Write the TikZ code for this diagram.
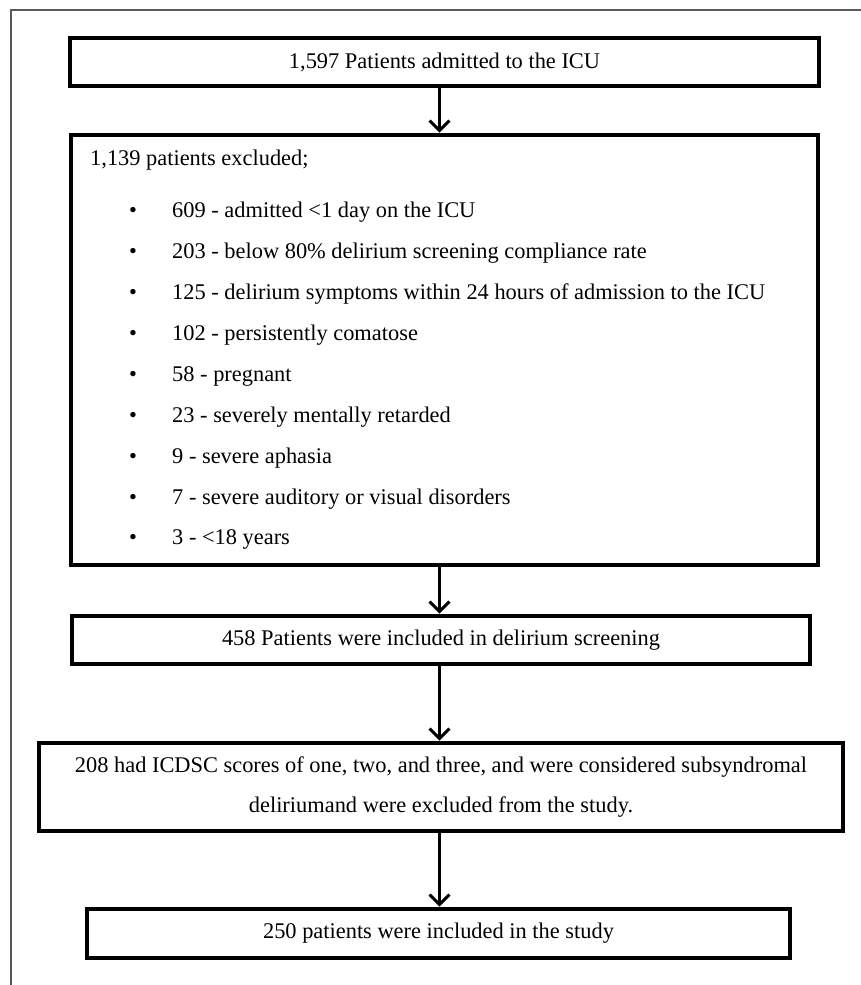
\documentclass[tikz,border=0pt]{standalone}
\usepackage{fontspec}
\setmainfont{Liberation Serif}
\usepackage{xcolor}
\usepackage{tikz}
\usetikzlibrary{shapes,arrows.meta}
\definecolor{frameGray}{RGB}{90,90,90}

\begin{document}
\begin{tikzpicture}[x=1pt,y=-1pt]
\tikzset{
    flow block/.style={
        rectangle, draw=black, line width=4.6pt,
        inner sep=0pt, align=center,
        font=\fontsize{22.4}{40}\selectfont
    },
    list text/.style={
        anchor=west, inner sep=0pt,
        text height=15pt, text depth=5pt,
        font=\fontsize{22.4}{27}\selectfont
    },
    arrow/.style={
        line width=3pt, -{Straight Barb[length=10pt,width=20pt,line width=3pt]}
    }
}
\useasboundingbox (0,0) rectangle (861,985);
% Outer frame
\draw[frameGray, line width=1.5pt] (861,10) -| (11,985);

% Boxes with absolute coordinates
\node[flow block, minimum width=749pt, minimum height=48pt] (admitted) at (444.5,62)  {1,597 Patients admitted to the ICU};
\node[flow block, minimum width=747pt, minimum height=430pt] (excluded) at (444.5,350) {};
\node[flow block, minimum width=738pt, minimum height=48pt] (screened) at (441,640)   {458 Patients were included in delirium screening};
\node[flow block, minimum width=804pt, minimum height=88pt] (subsyn)   at (441,787)   {208 had ICDSC scores of one, two, and three, and were considered subsyndromal\\deliriumand were excluded from the study.};
\node[flow block, minimum width=703pt, minimum height=49pt] (included) at (438.5,933.5) {250 patients were included in the study};

% Exclusion list
\node[list text] (exclTitle) at (90,160) {1,139 patients excluded;};
\foreach \i/\y/\t in {1/212/{609 - admitted <1 day on the ICU},
                      2/253/{203 - below 80\% delirium screening compliance rate},
                      3/294/{125 - delirium symptoms within 24 hours of admission to the ICU},
                      4/335/{102 - persistently comatose},
                      5/376/{58 - pregnant},
                      6/417/{23 - severely mentally retarded},
                      7/458/{9 - severe aphasia},
                      8/499/{7 - severe auditory or visual disorders},
                      9/539/{3 - <18 years}} {
    \node[list text] (bullet\i) at (129,\y) {\textbullet};
    \node[list text] (item\i)   at (172,\y) {\t};
}

% Arrows
\coordinate (axis) at (439.5,0);
\draw[arrow] (admitted.south -| axis) -- (excluded.north -| axis);
\draw[arrow] (excluded.south -| axis) -- (screened.north -| axis);
\draw[arrow] (screened.south -| axis) -- (subsyn.north -| axis);
\draw[arrow] (subsyn.south -| axis)   -- (included.north -| axis);
\end{tikzpicture}
\end{document}
